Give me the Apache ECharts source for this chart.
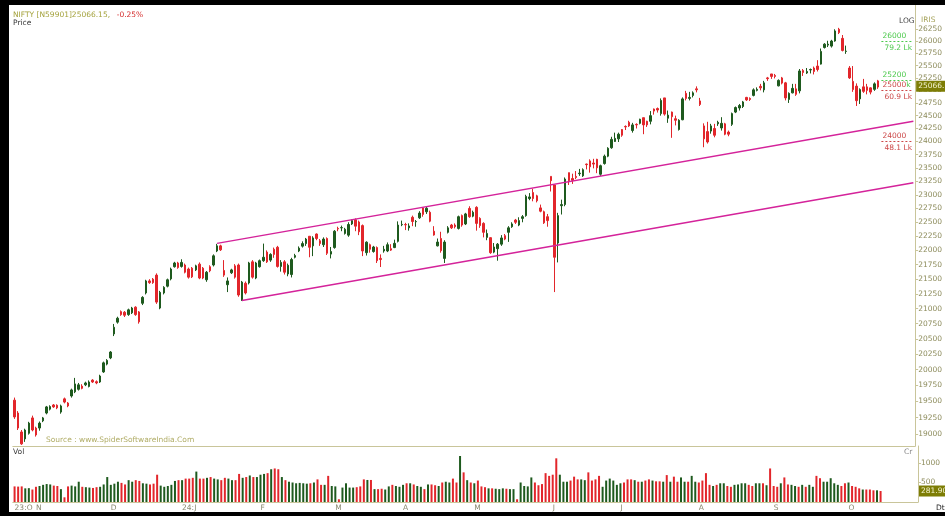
<!DOCTYPE html>
<html>
<head>
<meta charset="utf-8">
<script src="https://cdn.jsdelivr.net/npm/echarts@6/dist/echarts.min.js"></script>
<style>
html, body { margin: 0; padding: 0; background: #fff; }
#main { width: 945px; height: 516px; }
</style>
</head>
<body>
<div id="main"></div>
<script>
// month labels on the time axis and number of trading days in each
var monthNames = ['23:O', 'N', 'D', '24:J', 'F', 'M', 'A', 'M', 'J', 'J', 'A', 'S', 'O'];
var monthDays = [6, 21, 20, 22, 21, 19, 20, 22, 19, 22, 21, 21, 10];

// daily candles: [open, close, low, high]
var ohlc = [
    // Oct 23
    [19520,19260,19230,19560],[19320,19090,19060,19350],[19030,18850,18835,19060],[18925,19060,18880,19080],
    [19010,19165,18990,19185],[19245,19060,19040,19280],
    // Nov
    [19090,18985,18960,19110],[19090,19165,19050,19190],[19200,19245,19180,19260],[19320,19415,19300,19430],
    [19380,19420,19360,19440],[19445,19415,19400,19460],[19440,19400,19380,19455],[19335,19430,19310,19450],
    [19540,19490,19470,19560],[19475,19430,19410,19490],[19585,19680,19560,19700],[19650,19775,19630,19870],
    [19690,19760,19670,19790],[19740,19705,19690,19770],[19760,19790,19740,19810],[19735,19805,19720,19830],
    [19835,19805,19790,19850],[19810,19790,19770,19830],[19805,19900,19790,19920],[19965,20110,19950,20130],
    [20090,20150,20070,20170],
    // Dec
    [20190,20285,20170,20300],[20580,20690,20545,20745],[20775,20840,20750,20865],[20950,20900,20880,20970],
    [20940,20890,20860,20960],[20900,20980,20880,21000],[20930,21010,20910,21030],[21025,20900,20880,21040],
    [20945,20780,20750,20960],[21090,21190,21060,21210],[21265,21470,21240,21490],[21470,21440,21420,21500],
    [21500,21440,21420,21520],[21570,21110,21080,21600],[21010,21275,20990,21300],[21265,21360,21240,21380],
    [21380,21490,21360,21510],[21505,21675,21480,21700],[21715,21780,21700,21800],[21780,21700,21680,21800],
    // Jan
    [21720,21790,21700,21845],[21745,21620,21600,21770],[21675,21535,21510,21700],[21690,21540,21520,21710],
    [21660,21730,21640,21750],[21760,21520,21500,21790],[21690,21520,21500,21710],[21490,21620,21455,21640],
    [21715,21645,21620,21740],[21745,21905,21720,21930],[21990,22080,21970,22115],[22080,22010,21990,22100],
    [21650,21570,21540,21830],[21405,21470,21280,21530],[21610,21660,21590,21680],[21730,21535,21510,21760],
    [21745,21230,21200,21770],[21145,21450,21130,21470],[21430,21265,21240,21460],[21435,21780,21410,21800],
    [21800,21535,21510,21830],[21520,21780,21500,21800],
    // Feb
    [21715,21820,21700,21840],[21820,21880,21800,22120],[21970,21800,21780,22000],[21830,21930,21800,21950],
    [22020,21930,21870,22050],[22055,21720,21700,22080],[21720,21790,21630,21830],[21800,21620,21580,21830],
    [21590,21740,21550,21770],[21580,21840,21530,21870],[21880,21910,21860,21940],[21990,22040,21970,22070],
    [22075,22120,22050,22160],[22120,22200,22080,22220],[22250,22055,21880,22250],[22080,22220,21900,22250],
    [22290,22210,22180,22300],[22170,22120,22080,22200],[22100,22200,22060,22230],[22210,21950,21920,22230],
    [21935,21980,21860,22060],
    // Mar
    [22050,22340,22030,22360],[22390,22380,22340,22420],[22400,22405,22340,22440],[22300,22375,22280,22400],
    [22270,22460,22240,22500],[22470,22530,22450,22550],[22545,22430,22340,22570],[22505,22330,22270,22530],
    [22440,21990,21900,22460],[21960,22145,21910,22160],[22100,22020,21960,22120],[21980,22060,21960,22080],
    [22050,21820,21780,22070],[21860,21840,21710,21930],[21990,22020,21960,22080],[21990,22100,21970,22140],
    [22030,22005,21990,22110],[22050,22125,22040,22190],[22160,22450,22140,22516],
    // Apr
    [22455,22462,22430,22530],[22460,22453,22360,22490],[22400,22434,22350,22480],[22590,22514,22430,22620],
    [22510,22513,22420,22540],[22580,22666,22560,22700],[22760,22642,22600,22770],[22690,22753,22650,22780],
    [22680,22519,22500,22710],[22340,22272,22260,22430],[22080,22147,22070,22210],[22210,21995,21960,22330],
    [21860,22147,21780,22180],[22320,22400,22300,22430],[22450,22400,22380,22470],[22450,22420,22390,22480],
    [22390,22600,22370,22620],[22620,22450,22420,22640],[22470,22650,22450,22670],[22750,22600,22580,22790],
    // May
    [22610,22680,22590,22710],[22770,22480,22350,22790],[22570,22440,22400,22590],[22480,22320,22230,22500],
    [22230,22300,22180,22370],[22225,21960,21940,22230],[21970,22060,21950,22130],[22030,22110,21820,22130],
    [22110,22220,22080,22270],[22260,22200,22180,22290],[22320,22400,22150,22430],[22420,22470,22400,22500],
    [22540,22500,22470,22560],[22450,22530,22430,22590],[22570,22600,22500,22630],[22620,22970,22600,23000],
    [22930,22960,22900,23030],[23040,22930,22880,23110],[22980,22890,22860,23000],[22760,22700,22680,22820],
    [22690,22490,22470,22710],[22600,22530,22420,22650],
    // Jun
    [23340,23260,23060,23340],[23180,21880,21280,23180],[22130,22620,21790,22670],[22800,22820,22640,22910],
    [22820,23290,22790,23320],[23410,23260,23180,23410],[23300,23265,23200,23390],[23340,23320,23290,23440],
    [23390,23400,23350,23480],[23350,23465,23330,23490],[23570,23560,23470,23580],[23630,23520,23410,23660],
    [23590,23570,23490,23670],[23660,23500,23400,23670],[23380,23540,23350,23560],[23580,23720,23560,23750],
    [23720,23870,23700,23890],[23880,24040,23860,24090],[24000,24060,23990,24170],
    // Jul
    [24050,24140,23990,24170],[24230,24120,24090,24240],[24290,24280,24220,24310],[24370,24300,24280,24400],
    [24210,24320,24170,24360],[24330,24320,24250,24350],[24350,24430,24330,24440],[24460,24320,24140,24460],
    [24390,24320,24280,24400],[24390,24500,24330,24590],[24630,24590,24520,24640],[24640,24610,24560,24660],
    [24540,24800,24500,24840],[24850,24530,24500,24850],[24450,24510,24360,24600],[24570,24480,24070,24580],
    [24440,24410,24310,24500],[24230,24410,24210,24430],[24420,24830,24410,24860],[24940,24840,24800,24990],
    [24840,24860,24800,24970],[24900,24950,24860,24980],
    // Aug
    [25030,25010,24960,25080],[24790,24720,24690,24850],[24300,24050,23890,24350],[24190,23990,23960,24380],
    [24200,24300,24150,24340],[24250,24120,24080,24340],[24340,24370,24300,24400],[24260,24350,24210,24470],
    [24340,24140,24120,24360],[24180,24140,24100,24210],[24330,24540,24300,24560],[24570,24660,24550,24680],
    [24650,24700,24600,24730],[24680,24770,24650,24790],[24860,24810,24790,24870],[24840,24820,24790,24860],
    [24900,25010,24880,25040],[25000,25020,24980,25060],[25080,25050,25000,25130],[25010,25150,24960,25190],
    [25250,25235,25190,25270],
    // Sep
    [25330,25280,25230,25330],[25300,25280,25240,25330],[25090,25200,25080,25220],[25250,25145,25120,25270],
    [25150,24850,24800,25170],[24820,24940,24750,24960],[24950,25040,24940,25130],[25030,24920,24890,25130],
    [24990,25390,24940,25430],[25400,25360,25290,25430],[25350,25380,25330,25450],[25410,25420,25340,25440],
    [25450,25380,25320,25480],[25490,25420,25380,25610],[25530,25790,25520,25850],[25870,25940,25850,25960],
    [25920,25940,25880,26010],[25900,26005,25870,26030],[26005,26215,25990,26250],[26250,26180,26150,26280],
    [26060,25810,25790,26130],
    // Oct
    [25790,25795,25740,25910],[25450,25250,25230,25490],[25180,25015,24970,25490],[25085,24795,24690,25140],
    [24830,25015,24730,25040],[25070,24980,24950,25230],[25070,25000,24920,25130],[25050,24965,24920,25060],
    [25020,25130,24990,25160],[25190,25066,25030,25210]
];

// daily volume, crore
var volumes = [
    400,395,400,350,355,320,390,410,440,460, 450,420,410,330,120,400,420,400,520,390,
    380,370,360,380,390,450,640,440,470,520, 490,450,560,520,560,540,480,470,450,470,
    700,420,390,410,440,540,560,560,600,600, 620,780,600,600,620,640,600,580,560,620,
    600,560,560,720,620,640,680,640,640,700, 720,740,840,860,840,640,560,520,500,480,
    490,480,470,480,500,580,440,440,670,410, 400,70,370,480,370,370,380,400,580,565,
    565,330,330,340,320,400,440,410,390,440, 480,480,450,410,390,330,450,450,430,410,
    500,520,500,600,500,1180,760,560,500,480, 550,400,380,350,350,340,330,350,340,330,
    330,70,500,410,400,630,500,430,460,740, 670,700,1120,700,520,520,550,650,580,580,
    560,760,550,580,670,390,550,600,550,440, 480,500,580,580,560,520,520,550,580,550,
    530,530,520,690,520,650,520,630,520,520, 670,520,500,550,740,440,410,440,480,480,
    410,390,440,450,480,480,440,410,480,480, 480,430,860,410,390,480,630,450,440,410,
    390,440,390,440,390,670,610,520,520,610, 480,440,410,480,500,410,390,350,320,320,
    320,300,300,281.9
];

var priceTicks = [19000,19250,19500,19750,20000,20250,20500,20750,21000,21250,21500,21750,
    22000,22250,22500,22750,23000,23250,23500,23750,24000,24250,24500,24750,25000,25250,
    25500,25750,26000,26250];
var volTicks = [500, 1000];

// channel trend lines: [bar index, price]
var upperLine = [[57, 22124], [253, 24390]];
var lowerLine = [[64, 21137], [253, 23221]];

// option open-interest levels on the right edge
var oiStrikes = [26000, 25200, 25000, 24000];
var oiTop = ['26000', '25200', '{r|25000}{g|k}', '24000'];
var oiBottom = ['79.2 Lk', '', '60.9 Lk', '48.1 Lk'];
var oiColors = ['#4cc94c', '#4cc94c', '#cc4848', '#cc4848'];

var lastPrice = 25066.15;
var lastVol = 281.9;

var GREEN = '#1e5a1e';
var RED = '#e2262b';
var AXIS = '#c9c59a';
var FONT = 'DejaVu Sans';
var CLEAR = 'rgba(0,0,0,0)';

var categories = [];
for (var m = 0; m < monthNames.length; m++) {
    categories.push(monthNames[m]);
    for (var d = 1; d < monthDays[m]; d++) categories.push('');
}
for (var p = 0; p < 10; p++) categories.push('');

var candleData = ohlc.map(function (r) {
    return [Math.log(r[0]), Math.log(r[1]), Math.log(r[2]), Math.log(r[3])];
});
var volData = volumes.map(function (v, i) {
    return { value: v, itemStyle: { color: ohlc[i][1] >= ohlc[i][0] ? GREEN : RED } };
});

function tag(text) {
    return { show: true, position: 'end', distance: 1, formatter: text, color: '#f4f4d0',
             backgroundColor: '#7d7d05', padding: [2, 2, 1, 2], fontSize: 7.5, fontFamily: FONT };
}

var priceMarks = [
    [{ coord: [upperLine[0][0], Math.log(upperLine[0][1])], lineStyle: { color: '#d4239a', width: 1.5, type: 'solid' }, label: { show: false } },
     { coord: [upperLine[1][0], Math.log(upperLine[1][1])] }],
    [{ coord: [lowerLine[0][0], Math.log(lowerLine[0][1])], lineStyle: { color: '#d4239a', width: 1.5, type: 'solid' }, label: { show: false } },
     { coord: [lowerLine[1][0], Math.log(lowerLine[1][1])] }],
    { yAxis: Math.log(lastPrice), lineStyle: { color: CLEAR, width: 0 }, label: tag(lastPrice.toFixed(2)) }
];
oiStrikes.forEach(function (s, i) {
    var y = Math.log(s);
    priceMarks.push([
        { coord: [244, y], lineStyle: { color: oiColors[i], width: 1, type: [2, 2] },
          label: { show: true, position: 'insideStartTop', distance: 1, formatter: oiTop[i], color: oiColors[i],
                   fontSize: 7.5, fontFamily: FONT,
                   rich: { r: { color: '#cc4848', fontSize: 7.5, fontFamily: FONT }, g: { color: '#4cc94c', fontSize: 7.5, fontFamily: FONT } } } },
        { coord: [253, y] }
    ]);
    if (oiBottom[i]) {
        priceMarks.push([
            { coord: [244, y], lineStyle: { color: CLEAR, width: 0 },
              label: { show: true, position: 'insideStartBottom', distance: 3, formatter: oiBottom[i], color: oiColors[i],
                       fontSize: 7.5, fontFamily: FONT } },
            { coord: [253, y] }
        ]);
    }
});

var chart = echarts.init(document.getElementById('main'), null, { renderer: 'canvas' });
chart.setOption({
    animation: false,
    backgroundColor: '#ffffff',
    textStyle: { fontFamily: FONT },
    grid: [
        { left: 12.8, right: 27, top: 5, height: 441 },
        { left: 12.8, right: 27, top: 446, height: 56 }
    ],
    xAxis: [
        { type: 'category', gridIndex: 0, data: categories, boundaryGap: true,
          axisLine: { lineStyle: { color: AXIS } }, axisTick: { show: false }, axisLabel: { show: false }, splitLine: { show: false } },
        { type: 'category', gridIndex: 1, data: categories, boundaryGap: true,
          axisLine: { lineStyle: { color: AXIS } }, axisTick: { show: false }, splitLine: { show: false },
          axisLabel: { interval: 0, align: 'left', margin: 2, color: '#8a8a70', fontSize: 7.5, fontFamily: FONT } }
    ],
    yAxis: [
        { type: 'value', gridIndex: 0, position: 'right', min: Math.log(18818), max: Math.log(26764),
          axisLine: { show: true, lineStyle: { color: AXIS } },
          axisTick: { show: true, length: 3, lineStyle: { color: AXIS }, customValues: priceTicks.map(Math.log) },
          axisLabel: { margin: 3, color: '#8d8c5c', fontSize: 7.5, fontFamily: FONT,
                       customValues: priceTicks.map(Math.log),
                       formatter: function (v) { return String(Math.round(Math.exp(v))); } },
          splitLine: { show: false } },
        { type: 'value', gridIndex: 1, position: 'right', min: 0, max: 1436,
          axisLine: { show: true, lineStyle: { color: AXIS } },
          axisTick: { show: true, length: 3, lineStyle: { color: AXIS }, customValues: volTicks },
          axisLabel: { margin: 3, color: '#8d8c5c', fontSize: 7.5, fontFamily: FONT, customValues: volTicks,
                       formatter: function (v) { return String(v); } },
          splitLine: { show: false } }
    ],
    series: [
        { type: 'candlestick', xAxisIndex: 0, yAxisIndex: 0, data: candleData, barWidth: 2,
          itemStyle: { color: GREEN, color0: RED, borderColor: GREEN, borderColor0: RED, borderWidth: 1 },
          markLine: { silent: true, symbol: ['none', 'none'], animation: false, data: priceMarks } },
        { type: 'bar', xAxisIndex: 1, yAxisIndex: 1, data: volData, barWidth: 2,
          markLine: { silent: true, symbol: ['none', 'none'], animation: false,
            data: [{ yAxis: lastVol, lineStyle: { color: CLEAR, width: 0 }, label: tag(lastVol.toFixed(2)) }] } }
    ],
    graphic: [
        { type: 'text', left: 13, top: 9, style: { text: '{a|NIFTY [N59901]25066.15,}  {b|-0.25%}',
            rich: { a: { fill: '#a4a23c', fontSize: 7.5, fontFamily: FONT }, b: { fill: '#d42a2a', fontSize: 7.5, fontFamily: FONT } } } },
        { type: 'text', left: 13, top: 19, style: { text: 'Price', fill: '#333', font: '7.5px "DejaVu Sans"' } },
        { type: 'text', left: 46, top: 436, style: { text: 'Source : www.SpiderSoftwareIndia.Com', fill: '#b0ac66', font: '7.5px "DejaVu Sans"' } },
        { type: 'text', left: 13, top: 448, style: { text: 'Vol', fill: '#333', font: '7.5px "DejaVu Sans"' } },
        { type: 'text', left: 904, top: 448, style: { text: 'Cr', fill: '#888', font: '7.5px "DejaVu Sans"' } },
        { type: 'text', left: 899, top: 17, style: { text: 'LOG', fill: '#444', font: '7.5px "DejaVu Sans"' } },
        { type: 'text', left: 921, top: 16, style: { text: 'IRIS', fill: '#a6a35c', font: '7.5px "DejaVu Sans"' } },
        { type: 'text', left: 936, top: 504, style: { text: 'Dt', fill: '#222', font: '7.5px "DejaVu Sans"' } },
        { type: 'rect', left: 0, top: 0, z: 100, shape: { width: 945, height: 5 }, style: { fill: '#000' } },
        { type: 'rect', left: 0, top: 0, z: 100, shape: { width: 9, height: 516 }, style: { fill: '#000' } },
        { type: 'rect', left: 0, top: 512, z: 100, shape: { width: 945, height: 4 }, style: { fill: '#000' } }
    ]
});
</script>
</body>
</html>
